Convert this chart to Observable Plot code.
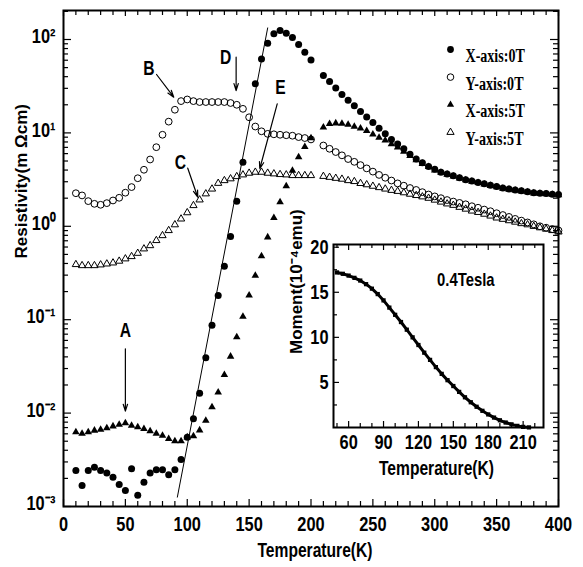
<!DOCTYPE html>
<html><head><meta charset="utf-8">
<script src="https://cdn.jsdelivr.net/npm/d3@7"></script>
<script src="https://cdn.jsdelivr.net/npm/@observablehq/plot@0.6"></script>
<style>
body{margin:0;background:#fff;}
#wrap{position:relative;width:583px;height:567px;overflow:hidden;}
#inset{position:absolute;left:283px;top:239px;}
</style></head><body>
<div id="wrap"><div id="main"></div><div id="inset"></div></div>
<script>
// ---- data ----
const temps = [10,15,20,25,30,35,40,45,50,55,60,65,70,75,80,85,90,95,100,105,110,115,120,125,130,135,140,145,150,155,160,165,170,175,180,185,190,195,200,
  210,215,220,225,230,235,240,245,250,255,260,265,270,275,280,285,290,295,300,305,310,315,320,325,330,335,340,345,350,355,360,365,370,375,380,385,390,395,400];
const xAxis0T = [0.00243,0.00168,0.00243,0.00263,0.00243,0.00229,0.00206,0.00172,0.00148,0.00253,
  0.00132,0.00182,0.00229,0.00247,0.00247,0.00219,0.00247,0.00318,0.00552,0.00871,
  0.0163,0.0391,0.0871,0.182,0.374,0.778,1.85,4.85,null,33.6,
  61.7,91.2,115,125,117,105,88.3,73.1,60.3,
  41.2,35.5,30.2,25.7,22.4,19.5,17.0,14.8,12.9,11.2,
  9.77,8.51,7.59,6.76,5.89,5.25,4.79,4.37,4.07,3.80,
  3.63,3.47,3.31,3.16,3.05,2.95,2.85,2.75,2.66,2.57,
  2.51,2.45,2.40,2.34,2.29,2.26,2.24,2.21,2.19];
const yAxis0T = [2.26,2.14,1.86,1.74,1.70,1.77,1.89,2.02,2.29,2.63,
  3.27,4.03,5.19,7.03,9.55,13.2,17.7,21.9,22.8,21.9,
  21.4,21.4,21.4,21.4,21.4,20.9,20.0,18.1,14.7,11.7,
  10.4,9.77,9.66,9.55,9.44,9.33,9.02,8.81,8.51,
  7.33,6.76,6.24,5.75,5.25,4.90,4.52,4.17,3.85,3.55,
  3.31,3.09,2.88,2.72,2.57,2.45,2.32,2.19,2.09,2.00,
  1.91,1.84,1.78,1.72,1.64,1.58,1.51,1.45,1.38,1.32,
  1.26,1.20,1.15,1.10,1.05,1.00,0.966,0.933,0.902];
const xAxis5T = [0.00625,0.00603,0.00625,0.00652,0.00667,0.00692,0.00724,0.00755,0.0078,0.00736,
  0.00708,0.00679,0.00641,0.00603,0.00575,0.00531,0.00501,0.00501,0.00552,0.00566,
  0.00656,0.00832,0.0116,0.0167,0.0257,0.0404,0.065,0.108,0.182,0.297,
  0.479,0.764,1.23,1.82,2.69,3.95,5.50,7.08,8.81,
  11.5,12.5,12.7,12.6,12.3,11.7,11.2,10.5,9.66,8.91,
  8.32,7.59,7.0,6.31,5.69,5.13,4.68,4.32,3.98,3.76,
  3.59,3.43,3.27,3.13,3.02,2.92,2.82,2.72,2.63,2.54,
  2.48,2.43,2.37,2.32,2.26,2.24,2.21,2.19,2.16];
const yAxis5T = [0.390,0.380,0.380,0.380,0.387,0.396,0.406,0.424,0.449,0.475,
  0.515,0.574,0.622,0.705,0.796,0.902,1.04,1.20,1.40,1.67,
  1.92,2.23,2.51,2.89,3.09,3.23,3.41,3.56,3.71,3.80,
  3.80,3.71,3.65,3.59,3.56,3.50,3.50,3.50,3.50,
  3.43,3.35,3.27,3.20,3.09,3.02,2.88,2.79,2.69,2.60,
  2.51,2.43,2.37,2.29,2.21,2.14,2.07,2.00,1.91,1.82,
  1.74,1.68,1.60,1.53,1.46,1.41,1.35,1.29,1.23,1.19,
  1.15,1.11,1.07,1.04,1.00,0.966,0.933,0.902,0.871];
const seriesNames = ["X-axis:0T","Y-axis:0T","X-axis:5T","Y-axis:5T"];

// straight guide line (two end points)
const guideT = [92, 165];
const guideRho = [0.00126, 133];

// annotation letters and arrows
const annoLabels = ["A","B","C","D","E"];
const annoT = [50, 69, 94.5, 131, 175.4];
const annoRho = [0.0768, 48.5, 4.85, 63.7, 30.4];
const arrowT1 = [50, 75.2, 100.4, 139.5, 172.7];
const arrowRho1 = [0.0488, 42.2, 4.19, 64.6, 20.5];
const arrowT2 = [50, 89.1, 108.5, 139.5, 158.6];
const arrowRho2 = [0.0105, 24.1, 2.05, 28.4, 4.13];

// axis ticks
const xMajorTicks = [0,50,100,150,200,250,300,350,400];
const yMajorTicks = [1e-3,1e-2,1e-1,1,10,100];
const yTickLabels = ["10\u207B\u00B3","10\u207B\u00B2","10\u207B\u00B9","10\u2070","10\u00B9","10\u00B2"];

// inset: magnetic moment (10^-4 emu) vs temperature at 0.4 Tesla
const insetT = [50,55,60,65,70,75,80,85,90,95,100,105,110,115,120,125,130,135,140,145,150,155,160,165,170,175,180,185,190,195,200,205,210,215];
const insetMoment = [17.2,17.05,16.85,16.6,16.3,15.9,15.4,14.8,14.1,13.3,12.5,11.7,10.85,10.0,9.15,8.3,7.5,6.7,5.95,5.25,4.6,3.95,3.35,2.8,2.3,1.85,1.45,1.1,0.8,0.55,0.35,0.18,0.07,0.01];
const insetXTicks = [60,90,120,150,180,210];
const insetYTicks = [5,10,15,20];

// ---- layout ----
const SANS = '"Liberation Sans",Arial,Helvetica,sans-serif';
const SERIF = '"Liberation Serif","Times New Roman",serif';
const W = 583, H = 567, mL = 63, mR = 25, mT = 10, mB = 61;
const pW = W - mL - mR, pH = H - mT - mB;

const rows = temps.map((t, i) => ({t, x0: xAxis0T[i], y0: yAxis0T[i], x5: xAxis5T[i], y5: yAxis5T[i]}));
const ser = k => rows.filter(d => d[k] != null);
const annos = annoLabels.map((l, i) => ({l, t: annoT[i], r: annoRho[i], t1: arrowT1[i], r1: arrowRho1[i], t2: arrowT2[i], r2: arrowRho2[i]}));
const guide = guideT.map((t, i) => ({t, r: guideRho[i]}));

const xMinor = d3.range(0, 401, 10).filter(v => v % 50 !== 0);
const yMinor = [];
for (let k = -3; k <= 1; k++) for (let m = 2; m <= 9; m++) yMinor.push(m * Math.pow(10, k));
yMinor.push(200);

const tickStyle = {stroke: "black", strokeWidth: 1.2};
const legendSym = [
  {symbol: "circle", fill: "black", stroke: "none", r: 3.4},
  {symbol: "circle", fill: "none", stroke: "black", r: 3.3},
  {symbol: "triangle", fill: "black", stroke: "none", r: 2.7},
  {symbol: "triangle", fill: "none", stroke: "black", r: 2.7}
];

const legendMarks = seriesNames.flatMap((name, i) => [
  Plot.dot([name], {frameAnchor: "top-right", dx: -108, dy: 39 + i * 27.6, ...legendSym[i], strokeWidth: 1}),
  Plot.text([name], {text: d => d, frameAnchor: "top-right", textAnchor: "start", dx: -93, dy: 39 + i * 27.6,
    fontFamily: SERIF, fontWeight: "bold", fontSize: 18})
]);

const main = Plot.plot({
  width: W, height: H, marginLeft: mL, marginRight: mR, marginTop: mT, marginBottom: mB,
  x: {domain: [0, 400], label: null},
  y: {type: "log", domain: [1e-3, 204.4], label: null},
  style: {fontFamily: SANS, fontWeight: "bold", fontSize: "20px", color: "black", background: "transparent", overflow: "visible"},
  marks: [
    Plot.line(guide, {x: "t", y: "r", stroke: "black", strokeWidth: 1}),
    Plot.dot(ser("y0"), {x: "t", y: "y0", r: 3.4, stroke: "black", fill: "none", strokeWidth: 1}),
    Plot.dot(ser("y5"), {x: "t", y: "y5", symbol: "triangle", r: 2.7, stroke: "black", fill: "none", strokeWidth: 1}),
    Plot.dot(ser("x0"), {x: "t", y: "x0", r: 3.5, fill: "black"}),
    Plot.dot(ser("x5"), {x: "t", y: "x5", symbol: "triangle", r: 2.8, fill: "black"}),
    Plot.arrow(annos, {x1: "t1", y1: "r1", x2: "t2", y2: "r2", stroke: "black", strokeWidth: 1.2, headLength: 9, headAngle: 35}),
    Plot.text(annos, {x: "t", y: "r", text: "l", fontSize: 20}),
    // ticks (inward)
    Plot.ruleX(xMajorTicks, {x: d => d, insetTop: pH - 7, ...tickStyle}),
    Plot.ruleX(xMinor, {x: d => d, insetTop: pH - 5, ...tickStyle}),
    Plot.ruleX(xMajorTicks, {x: d => d, insetBottom: pH - 6, ...tickStyle}),
    Plot.ruleX(xMinor, {x: d => d, insetBottom: pH - 5, ...tickStyle}),
    Plot.ruleY(yMajorTicks, {y: d => d, insetRight: pW - 8, ...tickStyle}),
    Plot.ruleY(yMinor, {y: d => d, insetRight: pW - 5, ...tickStyle}),
    Plot.ruleY(yMajorTicks, {y: d => d, insetLeft: pW - 8, ...tickStyle}),
    Plot.ruleY(yMinor, {y: d => d, insetLeft: pW - 5, ...tickStyle}),
    Plot.axisX({ticks: xMajorTicks, tickSize: 0, tickPadding: 10, label: null, fontSize: 21}),
    Plot.axisY({ticks: yMajorTicks, tickSize: 0, tickPadding: 8, label: null, fontSize: 21, dy: -3,
      tickFormat: d => yTickLabels[yMajorTicks.findIndex(v => Math.abs(v - d) / d < 1e-6)]}),
    Plot.frame({stroke: "black", strokeWidth: 2}),
    Plot.text(["Temperature(K)"], {text: d => d, frameAnchor: "bottom", dx: 4, dy: 50, fontSize: 20}),
    Plot.text(["Resistivity(m \u03A9cm)"], {text: d => d, frameAnchor: "left", dx: -42, rotate: -90, fontSize: 17}),
    ...legendMarks
  ]
});
document.getElementById("main").appendChild(main);

// ---- inset ----
const iL = 50, iR = 5, iT = 5, iB = 62, iW = 265, iH = 250;
const ipW = iW - iL - iR, ipH = iH - iT - iB;
const insetRows = insetT.map((t, i) => ({t, m: insetMoment[i]}));
const ixMinor = d3.range(50, 225, 10).filter(v => !insetXTicks.includes(v));
const iyMinor = [2.5, 7.5, 12.5, 17.5];
const inset = Plot.plot({
  width: iW, height: iH, marginLeft: iL, marginRight: iR, marginTop: iT, marginBottom: iB,
  x: {domain: [47, 227.5], label: null},
  y: {domain: [0, 20.3], label: null},
  style: {fontFamily: SANS, fontWeight: "bold", fontSize: "21px", color: "black", background: "transparent", overflow: "visible"},
  marks: [
    Plot.frame({fill: "white", stroke: "none"}),
    Plot.line(insetRows, {x: "t", y: "m", stroke: "black", strokeWidth: 3}),
    Plot.dot(insetRows, {x: "t", y: "m", symbol: "square", r: 2.4, fill: "black"}),
    Plot.ruleX(insetXTicks, {x: d => d, insetTop: ipH - 6, ...tickStyle}),
    Plot.ruleX(ixMinor, {x: d => d, insetTop: ipH - 4, ...tickStyle}),
    Plot.ruleX(insetXTicks, {x: d => d, insetBottom: ipH - 6, ...tickStyle}),
    Plot.ruleX(ixMinor, {x: d => d, insetBottom: ipH - 4, ...tickStyle}),
    Plot.ruleY(insetYTicks, {y: d => d, insetRight: ipW - 6, ...tickStyle}),
    Plot.ruleY(iyMinor, {y: d => d, insetRight: ipW - 4, ...tickStyle}),
    Plot.axisX({ticks: insetXTicks, tickSize: 0, tickPadding: 7, label: null}),
    Plot.axisY({ticks: insetYTicks, tickSize: 0, tickPadding: 5, label: null}),
    Plot.frame({stroke: "black", strokeWidth: 2}),
    Plot.text(["0.4Tesla"], {text: d => d, frameAnchor: "top-right", dx: -49, dy: 28, fontSize: 19}),
    Plot.text(["Temperature(K)"], {text: d => d, frameAnchor: "bottom", dx: -2, dy: 47, fontSize: 20}),
    Plot.text(["Moment(10\u207B\u2074emu)"], {text: d => d, frameAnchor: "left", dx: -37, dy: 18, rotate: -90, fontSize: 17})
  ]
});
document.getElementById("inset").appendChild(inset);

// condense horizontal text (the source figure uses tall, narrow lettering)
function condense(svg, factor) {
  d3.select(svg).selectAll("text").each(function () {
    const tr = this.getAttribute("transform") || "";
    if (tr.includes("rotate")) return;
    const len = this.getComputedTextLength();
    if (len > 0) {
      this.setAttribute("textLength", (len * factor).toFixed(1));
      this.setAttribute("lengthAdjust", "spacingAndGlyphs");
    }
  });
}
condense(main, 0.78);
condense(inset, 0.78);
</script>
</body></html>
